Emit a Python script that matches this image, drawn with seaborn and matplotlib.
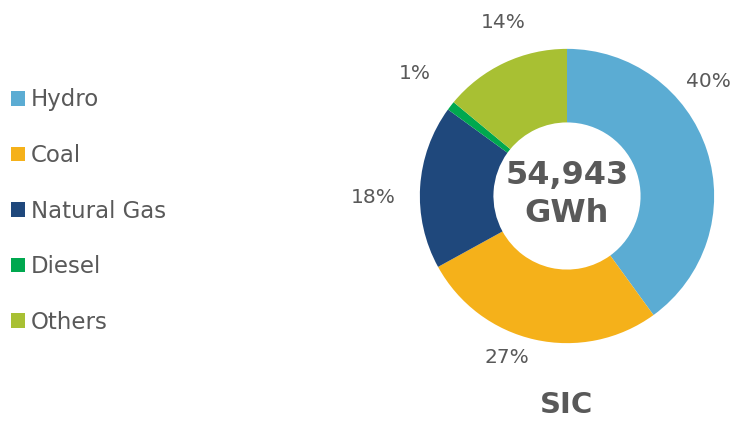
import numpy as np
import matplotlib
matplotlib.use("Agg")
import matplotlib.pyplot as plt
import seaborn as sns

# Generation mix (share of total, %)
sources = ["Hydro", "Coal", "Natural Gas", "Diesel", "Others"]
shares = [40, 27, 18, 1, 14]
total_label = "54,943\nGWh"
system_name = "SIC"

colors = ["#5BACD3", "#F5B11A", "#1F487C", "#00A84F", "#A8C033"]
# label placement tweaks: (angle offset from wedge middle in degrees, radius)
label_tweak = [(21, 1.235), (-8, 1.17), (4, 1.32), (-1, 1.33), (-5, 1.26)]

sns.set_theme(style="white")
plt.rcParams["font.family"] = ["DejaVu Sans"]
grey = "#595959"

fig = plt.figure(figsize=(7.34, 4.24), dpi=100)
ax = fig.add_axes([361 / 734, 22 / 424, 412 / 734, 412 / 424])

wedges, _ = ax.pie(shares, colors=colors, startangle=90, counterclock=False,
                   radius=1, wedgeprops=dict(width=0.5, linewidth=0))
ax.set_xlim(-1.4, 1.4)
ax.set_ylim(-1.4, 1.4)
ax.set_aspect("equal")
ax.axis("off")

# percentage labels outside the ring
for w, val, (off, r) in zip(wedges, shares, label_tweak):
    mid = np.deg2rad((w.theta1 + w.theta2) / 2 + off)
    ax.text(r * np.cos(mid), r * np.sin(mid), f"{val}%", ha="center", va="center",
            fontsize=14.5, color=grey)

ax.text(0, 0.01, total_label, ha="center", va="center", fontsize=23,
        fontweight="bold", color=grey, linespacing=1.3)
ax.text(0, -1.42, system_name, ha="center", va="center", fontsize=21,
        fontweight="bold", color=grey, clip_on=False)

leg = fig.legend(wedges, sources, loc="center left",
                 bbox_to_anchor=(11 / 734, 1 - 211 / 424), frameon=False,
                 fontsize=16.5, handlelength=0.61, handleheight=0.61,
                 handletextpad=0.27, labelspacing=1.42, borderpad=0,
                 borderaxespad=0)
for t in leg.get_texts():
    t.set_color(grey)

fig.savefig("out.png", dpi=100)
